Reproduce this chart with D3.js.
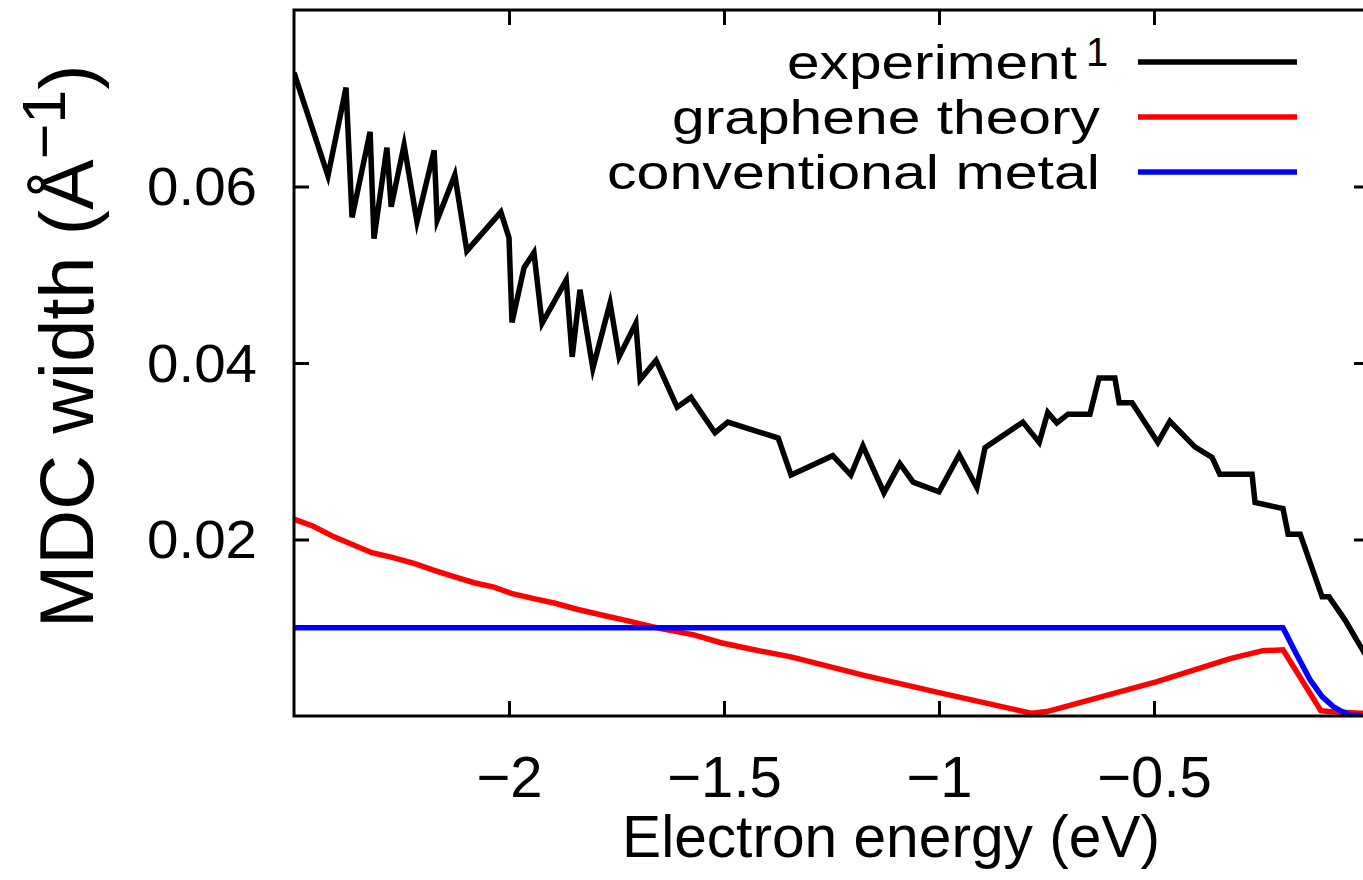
<!DOCTYPE html>
<html>
<head>
<meta charset="utf-8">
<script src="https://cdn.jsdelivr.net/npm/d3@7"></script>
<style>
  html, body { margin: 0; padding: 0; background: #fff; overflow: hidden; }
  svg { display: block; }
  text { font-family: "Liberation Sans", Arial, Helvetica, sans-serif; fill: #000; }
</style>
</head>
<body>
<svg id="chart" width="1363" height="880"></svg>
<script>
// Measured MDC width (experiment)
const expEnergy = [-2.5, -2.421, -2.379, -2.365, -2.323, -2.314, -2.284, -2.274, -2.244, -2.214,
  -2.174, -2.167, -2.126, -2.098, -2.019, -2.0, -1.993, -1.965, -1.942, -1.923,
  -1.867, -1.853, -1.835, -1.805, -1.765, -1.744, -1.705, -1.695, -1.658, -1.609,
  -1.577, -1.521, -1.491, -1.374, -1.344, -1.247, -1.205, -1.177, -1.128, -1.091,
  -1.060, -1.0, -0.953, -0.912, -0.893, -0.805, -0.767, -0.747, -0.726, -0.700,
  -0.649, -0.628, -0.591, -0.581, -0.551, -0.491, -0.463, -0.405, -0.365, -0.347,
  -0.272, -0.265, -0.200, -0.188, -0.160, -0.109, -0.093, -0.056, -0.026, 0.0];
const expWidth = [0.0729, 0.0612, 0.0712, 0.0565, 0.0662, 0.0541, 0.0644, 0.0577, 0.0647, 0.0560,
  0.0641, 0.0562, 0.0613, 0.0527, 0.0571, 0.0542, 0.0446, 0.0508, 0.0525, 0.0445,
  0.0494, 0.0407, 0.0483, 0.0394, 0.0468, 0.0407, 0.0445, 0.0381, 0.0403, 0.0350,
  0.0361, 0.0321, 0.0333, 0.0315, 0.0273, 0.0295, 0.0273, 0.0306, 0.0253, 0.0286,
  0.0265, 0.0254, 0.0296, 0.0259, 0.0304, 0.0333, 0.0310, 0.0344, 0.0332, 0.0342,
  0.0342, 0.0383, 0.0383, 0.0355, 0.0355, 0.0310, 0.0334, 0.0305, 0.0293, 0.0274,
  0.0274, 0.0242, 0.0235, 0.0206, 0.0206, 0.0135, 0.0135, 0.0109, 0.0084, 0.0063];

// Graphene theory
const grapheneEnergy = [-2.5, -2.455, -2.407, -2.319, -2.274, -2.221, -2.174, -2.128, -2.081, -2.035,
  -1.995, -1.942, -1.895, -1.842, -1.772, -1.726, -1.647, -1.570, -1.507, -1.430,
  -1.344, -1.174, -1.005, -0.784, -0.749, -0.493, -0.323, -0.247, -0.200, -0.112,
  -0.093, -0.019, 0.0];
const grapheneWidth = [0.0223, 0.0215, 0.0203, 0.0185, 0.0180, 0.0173, 0.0165, 0.0158, 0.0151, 0.0146,
  0.0139, 0.0133, 0.0128, 0.0121, 0.0113, 0.0108, 0.0099, 0.0092, 0.0083, 0.0075,
  0.0067, 0.0046, 0.0027, 0.0003, 0.0005, 0.0039, 0.0065, 0.0074, 0.0075, 0.0006,
  0.0005, 0.0003, 0.0003];

// Conventional metal
const metalEnergy = [-2.5, -0.2, -0.172, -0.137, -0.109, -0.084, -0.063, -0.044, 0.0];
const metalWidth = [0.01, 0.01, 0.0073, 0.0041, 0.0022, 0.0011, 0.0005, 0.0001, 0.0];

// Axis ticks
const xTicks = [-2, -1.5, -1, -0.5];
const yTicks = [0.02, 0.04, 0.06];
const xTickLabels = ["\u22122", "\u22121.5", "\u22121", "\u22120.5"];
const yTickLabels = ["0.02", "0.04", "0.06"];

const seriesNames = ["experiment", "graphene theory", "conventional metal"];
const seriesColors = ["#000000", "#ff0000", "#0000ff"];

const svg = d3.select("#chart");
const plotLeft = 294, plotRight = 1369, plotTop = 10, plotBottom = 716;

const x = d3.scaleLinear().domain([-2.5, 0]).range([plotLeft, plotRight]);
const y = d3.scaleLinear().domain([0, 0.08]).range([plotBottom, plotTop]);

// Data curves
const line = d3.line().x(d => x(d[0])).y(d => y(d[1]));
const strokeW = 5.5;
const series = [
  { e: expEnergy, w: expWidth, color: seriesColors[0] },
  { e: grapheneEnergy, w: grapheneWidth, color: seriesColors[1] },
  { e: metalEnergy, w: metalWidth, color: seriesColors[2] }
];
svg.append("defs").append("clipPath").attr("id", "plotclip")
  .append("rect").attr("x", plotLeft).attr("y", plotTop)
  .attr("width", plotRight - plotLeft).attr("height", plotBottom - plotTop);

const curves = svg.append("g").attr("clip-path", "url(#plotclip)");
series.forEach(s => {
  curves.append("path")
    .datum(d3.zip(s.e, s.w))
    .attr("d", line)
    .attr("fill", "none")
    .attr("stroke", s.color)
    .attr("stroke-width", strokeW)
    .attr("stroke-linejoin", "miter")
    .attr("stroke-miterlimit", 6);
});

// Axes: inward ticks on all four sides
const tickStyle = g => {
  g.select(".domain").remove();
  g.selectAll(".tick line").attr("stroke", "#000").attr("stroke-width", 3);
};

svg.append("g").attr("transform", `translate(0,${plotBottom})`)
  .call(d3.axisBottom(x).tickValues(xTicks).tickSizeInner(-15).tickSizeOuter(0)
    .tickPadding(40).tickFormat((d, i) => xTickLabels[i]))
  .call(tickStyle)
  .call(g => g.selectAll(".tick text")
    .attr("font-size", 58).attr("font-family", null).attr("fill", "#000"));

svg.append("g").attr("transform", `translate(0,${plotTop})`)
  .call(d3.axisTop(x).tickValues(xTicks).tickSizeInner(-15).tickSizeOuter(0).tickFormat(""))
  .call(tickStyle);

svg.append("g").attr("transform", `translate(${plotLeft},0)`)
  .call(d3.axisLeft(y).tickValues(yTicks).tickSizeInner(-15).tickSizeOuter(0)
    .tickPadding(37).tickFormat((d, i) => yTickLabels[i]))
  .call(tickStyle)
  .call(g => g.selectAll(".tick text")
    .attr("font-size", 53).attr("font-family", null).attr("fill", "#000")
    .attr("dy", "0.34em")
    .attr("textLength", 110).attr("lengthAdjust", "spacingAndGlyphs"));

svg.append("g").attr("transform", `translate(${plotRight},0)`)
  .call(d3.axisRight(y).tickValues(yTicks).tickSizeInner(-15).tickSizeOuter(0).tickFormat(""))
  .call(tickStyle);

// Frame
svg.append("rect")
  .attr("x", plotLeft).attr("y", plotTop)
  .attr("width", plotRight - plotLeft).attr("height", plotBottom - plotTop)
  .attr("fill", "none").attr("stroke", "#000").attr("stroke-width", 3);

// Axis titles
svg.append("text")
  .attr("x", 891).attr("y", 857)
  .attr("text-anchor", "middle")
  .attr("font-size", 60)
  .attr("textLength", 538).attr("lengthAdjust", "spacingAndGlyphs")
  .text("Electron energy (eV)");

const ylab = svg.append("text")
  .attr("transform", "translate(93,628) rotate(-90)")
  .attr("font-size", 76);
ylab.append("tspan").text("MDC width (\u00C5");
ylab.append("tspan").attr("font-size", 61).attr("dy", -28).text("\u22121");
ylab.append("tspan").attr("dy", 28).text(")");

// Legend
const keyRight = 1100, keyLineX0 = 1138, keyLineX1 = 1297;
const keyRows = [62, 117, 172];
const keyWidths = [290, 428, 493];
seriesNames.forEach((name, i) => {
  const yy = keyRows[i];
  const tx = i === 0 ? 1077 : keyRight;
  svg.append("text")
    .attr("x", tx).attr("y", yy + 17)
    .attr("text-anchor", "end")
    .attr("font-size", 49)
    .attr("textLength", keyWidths[i]).attr("lengthAdjust", "spacingAndGlyphs")
    .text(name);
  svg.append("line")
    .attr("x1", keyLineX0).attr("x2", keyLineX1)
    .attr("y1", yy).attr("y2", yy)
    .attr("stroke", seriesColors[i]).attr("stroke-width", strokeW);
});
svg.append("text")
  .attr("x", 1086).attr("y", 66)
  .attr("font-size", 40)
  .attr("fill", "#000")
  .text("1");
</script>
</body>
</html>
